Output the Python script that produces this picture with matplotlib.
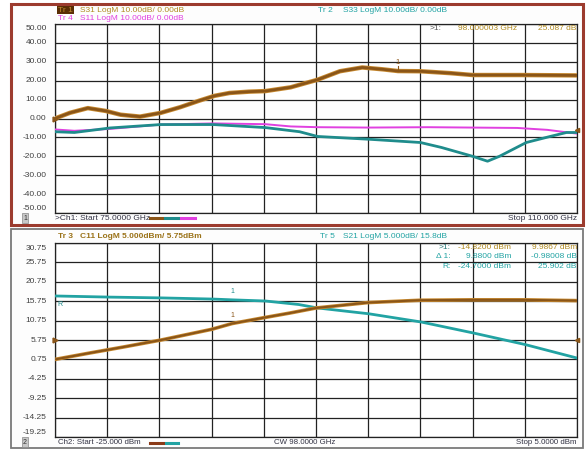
import matplotlib
matplotlib.use("Agg")
import matplotlib.pyplot as plt
from matplotlib.patches import Rectangle
from matplotlib.lines import Line2D
import numpy as np

plt.rcParams['font.family'] = ['Liberation Sans', 'DejaVu Sans']

# ---------------- data: top window (frequency sweep) ----------------
f_start, f_stop = 75.0, 110.0
top_yticks = [50, 40, 30, 20, 10, 0, -10, -20, -30, -40, -50]

freq_s31 = [75.0, 76.0, 77.2, 78.4, 79.4, 80.7, 82.1, 83.4, 84.7, 85.7, 86.7, 88.0,
            89.1, 90.8, 92.6, 94.1, 95.6, 97.0, 98.0, 99.5, 101.5, 103.0, 106.2, 110.0]
s31 = [0.0, 3.0, 5.5, 4.0, 2.0, 1.0, 3.0, 6.0, 9.5, 12.0, 13.5, 14.2,
       14.5, 16.5, 20.5, 25.0, 27.0, 26.0, 25.1, 25.0, 24.0, 23.0, 23.0, 22.8]

freq_s33 = [75.0, 76.3, 78.7, 82.1, 85.6, 89.1, 91.4, 92.6, 96.1, 99.5, 100.9,
            103.0, 104.0, 104.8, 106.6, 108.2, 109.3, 110.0]
s33 = [-7.0, -7.4, -5.0, -3.2, -3.2, -4.8, -7.0, -9.5, -11.0, -12.7, -15.3,
       -20.0, -22.6, -20.0, -12.7, -9.5, -7.4, -7.4]

freq_s11 = [75.0, 76.3, 78.7, 82.1, 85.6, 89.1, 90.8, 92.6, 96.0, 100.0, 103.0,
            106.0, 108.0, 110.0]
s11 = [-5.8, -6.5, -5.5, -3.2, -2.6, -3.0, -4.2, -4.6, -4.8, -4.6, -4.8,
       -5.0, -6.0, -8.0]

marker_top_f, marker_top_v = 98.0, 25.087

# ---------------- data: bottom window (power sweep) ----------------
p_start, p_stop = -25.0, 5.0
bot_yticks = [30.75, 25.75, 20.75, 15.75, 10.75, 5.75, 0.75, -4.25, -9.25, -14.25, -19.25]

pin_c11 = [-25.0, -23.0, -21.0, -18.9, -16.0, -14.82, -13.0, -11.5, -10.0, -7.0,
           -4.0, -1.0, 2.0, 5.0]
c11 = [0.75, 2.4, 4.0, 5.75, 8.5, 9.99, 11.5, 12.7, 14.0, 15.4, 16.0, 16.1, 16.1, 15.9]

pin_s21 = [-25.0, -21.8, -18.9, -15.9, -14.82, -12.9, -11.0, -9.9, -6.95, -3.97,
           -1.0, 2.0, 5.0]
s21 = [17.1, 16.8, 16.6, 16.3, 16.1, 15.8, 14.9, 14.0, 12.5, 10.4, 7.6, 4.6, 1.1]

marker_bot_p = -14.82

# ---------------- figure ----------------
W, H = 587, 451
fig = plt.figure(figsize=(W / 100, H / 100), dpi=100)
fig.patch.set_facecolor('white')

def fx(x):
    return x / W

def fy(y):
    return 1 - y / H

def ftext(x, y, s, **kw):
    kw.setdefault('fontsize', 6)
    kw.setdefault('va', 'center')
    fig.text(fx(x), fy(y), s, **kw)

# window frames
fig.patches.append(Rectangle((fx(11), fy(225)), fx(583) - fx(11), fy(4) - fy(225),
                             transform=fig.transFigure, facecolor='#fdfdfd',
                             edgecolor='#9c3b2e', lw=2.2, zorder=-5))
fig.patches.append(Rectangle((fx(11), fy(448)), fx(583) - fx(11), fy(229) - fy(448),
                             transform=fig.transFigure, facecolor='#fdfdfd',
                             edgecolor='#7a7a7a', lw=1.3, zorder=-5))

BROWN = '#8a5518'
BROWN_EDGE = '#c88a30'
TEAL = '#1f8c8c'
TEAL2 = '#22a3a3'
MAG = '#e040e0'
GOLD = '#b08a20'
LABEL = '#404040'

def setup_axes(ax, xlim, yticks, ylim):
    ax.set_xlim(*xlim)
    ax.set_ylim(*ylim)
    ax.set_xticks(np.linspace(xlim[0], xlim[1], 11))
    ax.set_xticklabels([])
    ax.set_yticks(yticks)
    ax.set_yticklabels([])
    ax.tick_params(length=0)
    ax.grid(True, color='#222222', lw=0.9)
    for sp in ax.spines.values():
        sp.set_color('#222222')
        sp.set_linewidth(0.9)
    ax.set_facecolor('white')
    n = len(yticks)
    for i, v in enumerate(yticks):
        off = 0
        if i == 0:
            off = -5
        elif i == n - 1:
            off = 5
        ax.annotate(f'{v:.2f}', xy=(0, v), xycoords=('axes fraction', 'data'),
                    xytext=(-6, off * 0.72), textcoords='offset points',
                    ha='right', va='center', fontsize=6, color=LABEL,
                    annotation_clip=False)

# ---------- top axes ----------
ax1 = fig.add_axes([fx(55), fy(213), fx(577) - fx(55), fy(24) - fy(213)])
setup_axes(ax1, (f_start, f_stop), top_yticks, (-50, 50))
ax1.plot(freq_s11, s11, color=MAG, lw=1.4, zorder=3)
ax1.plot(freq_s33, s33, color=TEAL, lw=2.0, zorder=4)
ax1.plot(freq_s31, s31, color=BROWN_EDGE, lw=3.2, zorder=5)
ax1.plot(freq_s31, s31, color=BROWN, lw=2.0, zorder=6)
ax1.text(marker_top_f, marker_top_v + 4.5, '1', fontsize=5.5, color=BROWN,
         ha='center', va='center', zorder=7)
ax1.plot([marker_top_f, marker_top_f], [marker_top_v, marker_top_v + 2.5],
         color=BROWN, lw=0.8, zorder=7)
ax1.plot([f_start], [0], marker='>', color=BROWN, ms=3.5, clip_on=False, zorder=8)
ax1.plot([f_stop], [-6], marker='<', color=BROWN, ms=3, clip_on=False, zorder=8)

# ---------- bottom axes ----------
ax2 = fig.add_axes([fx(55), fy(437), fx(577) - fx(55), fy(243) - fy(437)])
setup_axes(ax2, (p_start, p_stop), bot_yticks, (-19.25, 30.75))
ax2.plot(pin_s21, s21, color=TEAL2, lw=2.0, zorder=4)
ax2.plot(pin_c11, c11, color=BROWN_EDGE, lw=2.6, zorder=5)
ax2.plot(pin_c11, c11, color=BROWN, lw=1.5, zorder=6)
mv_c11 = float(np.interp(marker_bot_p, pin_c11, c11))
mv_s21 = float(np.interp(marker_bot_p, pin_s21, s21))
ax2.text(marker_bot_p, mv_s21 + 2.2, '1', fontsize=5, color=TEAL, ha='center', va='center', zorder=7)
ax2.text(marker_bot_p, mv_c11 + 2.0, '1', fontsize=5, color=BROWN, ha='center', va='center', zorder=7)
ax2.text(-24.7, 15.0, 'R', fontsize=5, color=TEAL, ha='center', va='center', zorder=7)
ax2.plot([p_start], [5.75], marker='>', color=BROWN, ms=3.5, clip_on=False, zorder=8)
ax2.plot([p_stop], [5.75], marker='<', color=BROWN, ms=3, clip_on=False, zorder=8)

# ---------- top window texts ----------
ftext(58, 10, 'Tr 1', color='#c08a30',
      bbox=dict(boxstyle='square,pad=0.1', fc='#5a2e05', ec='none'))
ftext(80, 10, 'S31 LogM 10.00dB/ 0.00dB', color=GOLD)
ftext(58, 19, 'Tr 4', color=MAG)
ftext(80, 19, 'S11 LogM 10.00dB/ 0.00dB', color=MAG)
ftext(318, 11, 'Tr 2', color=TEAL2)
ftext(343, 11, 'S33 LogM 10.00dB/ 0.00dB', color=TEAL2)
ftext(430, 29, '>1:', color='#555555')
ftext(517, 29, '98.000003 GHz', color=GOLD, ha='right')
ftext(576, 29, '25.087 dB', color=GOLD, ha='right')

ftext(25, 218, '1', color='#333333', ha='center', fontsize=5,
      bbox=dict(boxstyle='square,pad=0.15', fc='#c8c8c8', ec='#888888', lw=0.5))
ftext(55, 218, '>Ch1: Start 75.0000 GHz', color='#333344')
for (x0, x1, c) in [(150, 162, BROWN), (165, 178, TEAL), (181, 195, MAG)]:
    fig.add_artist(Line2D([fx(x0), fx(x1)], [fy(218), fy(218)], color=c, lw=2.2,
                          transform=fig.transFigure))
ftext(577, 218, 'Stop 110.000 GHz', color='#333344', ha='right')

# ---------- bottom window texts ----------
ftext(58, 237, 'Tr 3', color='#9a7218', fontweight='bold')
ftext(80, 237, 'C11 LogM 5.000dBm/ 5.75dBm', color='#9a7218', fontweight='bold')
ftext(320, 236, 'Tr 5', color=TEAL2)
ftext(343, 236, 'S21 LogM 5.000dB/ 15.8dB', color=TEAL2)

rows = [('>1:', '-14.8200 dBm', '9.9867 dBm', '#2a7a7a', GOLD),
        ('\u0394 1:', '9.8800 dBm', '-0.98008 dB', TEAL2, TEAL2),
        ('R:', '-24.7000 dBm', '25.902 dB', TEAL2, TEAL2)]
for (lab, v1, v2, c0, c1), yy in zip(rows, [247, 257, 267]):
    ftext(451, yy, lab, color=c0, ha='right')
    ftext(511, yy, v1, color=c1, ha='right')
    ftext(577, yy, v2, color=c1, ha='right')

ftext(25, 442, '2', color='#333333', ha='center', fontsize=5,
      bbox=dict(boxstyle='square,pad=0.15', fc='#c8c8c8', ec='#888888', lw=0.5))
ftext(58, 442.5, 'Ch2: Start -25.000 dBm', color='#333344', fontsize=5.7)
for (x0, x1, c) in [(150, 163, '#8a3a18'), (166, 178, TEAL2)]:
    fig.add_artist(Line2D([fx(x0), fx(x1)], [fy(442.5), fy(442.5)], color=c, lw=2.2,
                          transform=fig.transFigure))
ftext(305, 442.5, 'CW 98.0000 GHz', color='#333344', ha='center', fontsize=5.7)
ftext(577, 442.5, 'Stop 5.0000 dBm', color='#333344', ha='right', fontsize=5.7)

fig.savefig('out.png', dpi=100)
